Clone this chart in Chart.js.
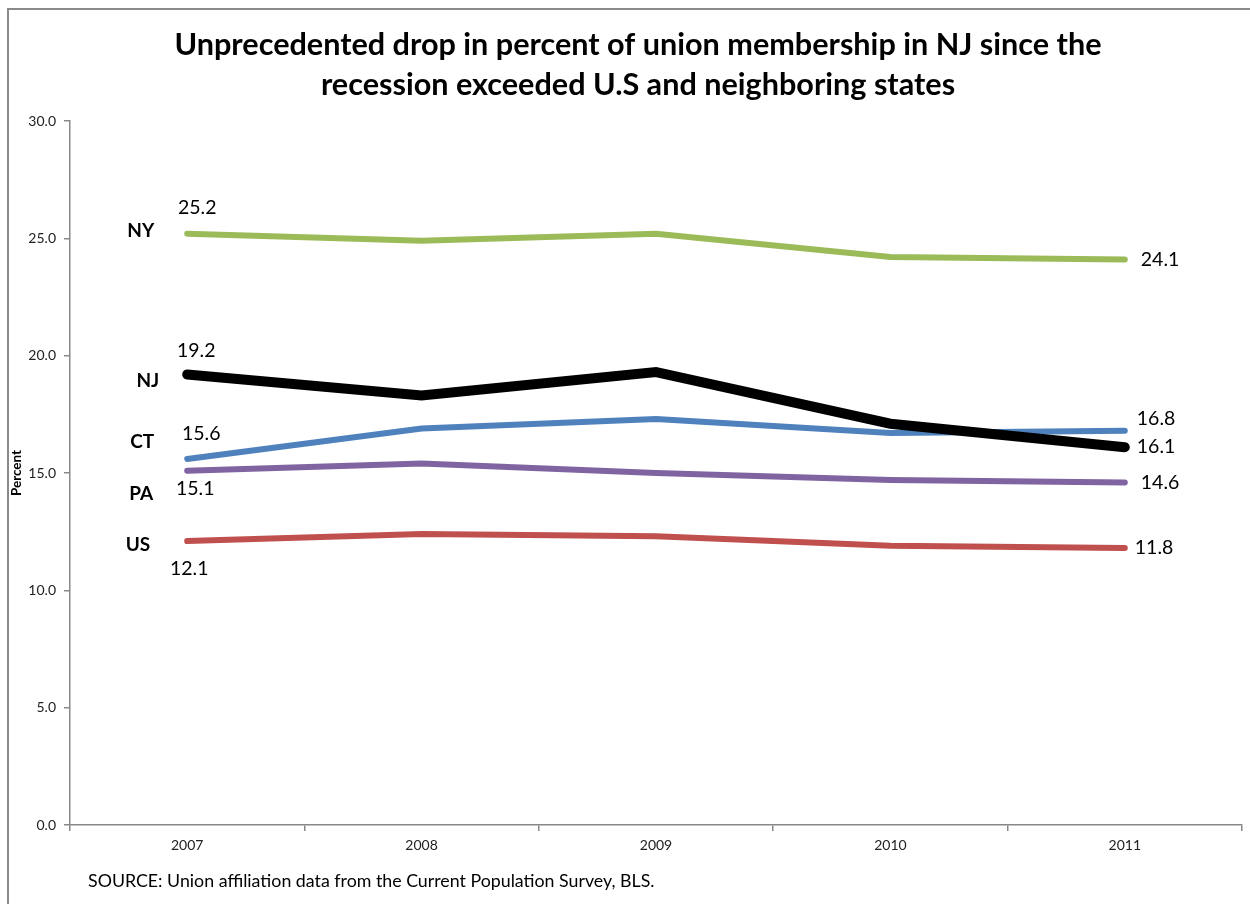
<!DOCTYPE html>
<html>
<head>
<meta charset="utf-8">
<script src="https://cdn.jsdelivr.net/npm/chart.js@4.4.1/dist/chart.umd.min.js"></script>
<style>
  html, body { margin: 0; padding: 0; background: #fff; }
  #wrap { width: 1250px; height: 904px; position: relative; }
</style>
</head>
<body>
<div id="wrap"><canvas id="graph" width="1250" height="904"></canvas></div>
<script>
// data
const years = ['2007', '2008', '2009', '2010', '2011'];
const seriesNames = ['NJ', 'NY', 'CT', 'PA', 'US'];
const nj = [19.2, 18.3, 19.3, 17.1, 16.1];
const ny = [25.2, 24.9, 25.2, 24.2, 24.1];
const ct = [15.6, 16.9, 17.3, 16.7, 16.8];
const pa = [15.1, 15.4, 15.0, 14.7, 14.6];
const us = [12.1, 12.4, 12.3, 11.9, 11.8];
const yTicks = [0, 5, 10, 15, 20, 25, 30];

const titleLines = ['Unprecedented drop in percent of union membership in NJ since the',
                    'recession exceeded U.S and neighboring states'];
const sourceText = 'SOURCE: Union affiliation data from the Current Population Survey, BLS.';

const FONT = 'Lato, "Open Sans", sans-serif';

// styles (colors, widths, label offsets)
const colors = ['#000000', '#9BBB59', '#4F81BD', '#8064A2', '#C0504D'];
const widths = [10, 6, 6, 6, 6];
// offsets relative to first point: name label (right aligned), first value (centered)
const nameOff = [[-28, 6], [-33, -3], [-33, -17], [-34, 23], [-37, 4]];
const firstValOff = [[9, -24], [10, -26], [14, -25], [8, 18], [2, 28]];
// offsets relative to last point for last value (left aligned)
const lastValOff = [[12, 0], [16, 0], [12, -12], [16, 0], [10, 0]];

const allData = [nj, ny, ct, pa, us];

const labelPlugin = {
    id: 'labels',
    beforeDraw(chart) {
        const ctx = chart.ctx;
        ctx.save();
        ctx.fillStyle = '#fff';
        ctx.fillRect(0, 0, chart.width, chart.height);
        // outer frame (top and left edges)
        ctx.strokeStyle = '#8a8a8a';
        ctx.lineWidth = 2;
        ctx.beginPath();
        ctx.moveTo(8, chart.height);
        ctx.lineTo(8, 9);
        ctx.lineTo(chart.width, 9);
        ctx.stroke();
        // title
        ctx.fillStyle = '#000';
        ctx.font = 'bold 30.6px ' + FONT;
        ctx.textAlign = 'center';
        ctx.textBaseline = 'middle';
        ctx.fillText(titleLines[0], 638, 45);
        ctx.fillText(titleLines[1], 638, 85);
        ctx.restore();
    },
    afterDatasetsDraw(chart) {
        const ctx = chart.ctx;
        ctx.save();
        ctx.textBaseline = 'middle';
        chart.data.datasets.forEach((ds, i) => {
            const pts = chart.getDatasetMeta(i).data;
            const first = pts[0];
            const last = pts[pts.length - 1];
            ctx.fillStyle = '#000';
            ctx.font = 'bold 19px ' + FONT;
            ctx.textAlign = 'right';
            ctx.fillText(ds.label, first.x + nameOff[i][0], first.y + nameOff[i][1]);
            ctx.font = '19.5px ' + FONT;
            ctx.textAlign = 'center';
            ctx.fillText(ds.data[0].toFixed(1), first.x + firstValOff[i][0], first.y + firstValOff[i][1]);
            ctx.textAlign = 'left';
            ctx.fillText(ds.data[ds.data.length - 1].toFixed(1), last.x + lastValOff[i][0], last.y + lastValOff[i][1]);
        });
        // source note
        ctx.font = '17.8px ' + FONT;
        ctx.textAlign = 'left';
        ctx.fillText(sourceText, 88, 881);
        ctx.restore();
    }
};

const ctx = document.getElementById('graph').getContext('2d');
new Chart(ctx, {
    type: 'line',
    data: {
        labels: years,
        datasets: allData.map((d, i) => ({
            label: seriesNames[i],
            data: d,
            borderColor: colors[i],
            backgroundColor: colors[i],
            borderWidth: widths[i],
            borderCapStyle: 'round',
            pointRadius: 0,
            tension: 0,
            fill: false
        }))
    },
    options: {
        responsive: false,
        animation: false,
        layout: { padding: { left: 8, right: 8, bottom: 0, top: 121 } },
        plugins: {
            legend: { display: false },
            tooltip: { enabled: false },
            title: { display: false }
        },
        scales: {
            x: {
                offset: true,
                grid: { offset: true, drawOnChartArea: false, tickLength: 6, color: '#888', lineWidth: 1.5 },
                border: { color: '#888', width: 1.5 },
                ticks: { color: '#222', font: { family: FONT, size: 14 }, padding: 6, maxRotation: 0 },
                afterFit: s => { s.height = 79; }
            },
            y: {
                min: 0,
                max: 30,
                afterBuildTicks: s => { s.ticks = yTicks.map(v => ({ value: v })); },
                grid: { drawOnChartArea: false, tickLength: 6, color: '#888', lineWidth: 1.5 },
                border: { color: '#888', width: 1.5 },
                ticks: { color: '#222', font: { family: FONT, size: 14 }, padding: 8,
                         callback: v => Number(v).toFixed(1) },
                title: { display: true, text: 'Percent', color: '#000',
                         font: { family: FONT, size: 13.5, weight: 'bold' }, padding: 1 },
                afterFit: s => { s.width = 62; }
            }
        }
    },
    plugins: [labelPlugin]
});
</script>
</body>
</html>
